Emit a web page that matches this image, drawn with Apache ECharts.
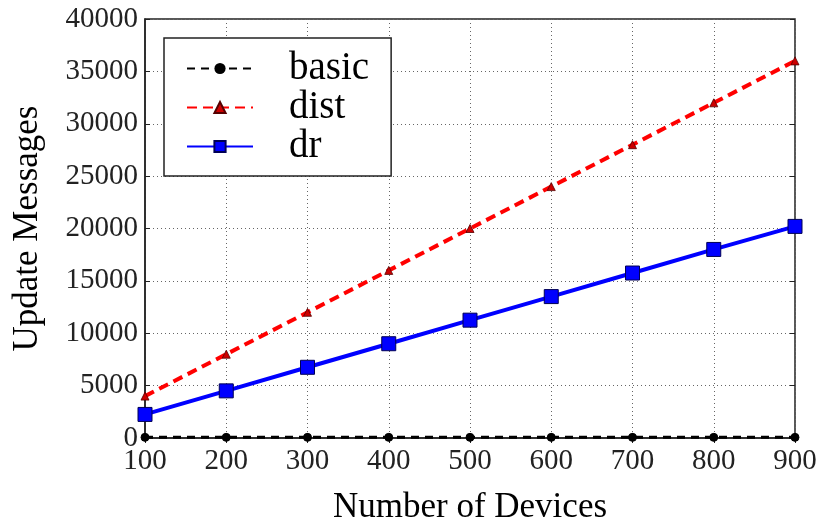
<!DOCTYPE html>
<html>
<head>
<meta charset="utf-8">
<script src="https://cdn.jsdelivr.net/npm/echarts@6/dist/echarts.min.js"></script>
<style>html,body{margin:0;padding:0;background:#fff}#c{width:816px;height:525px}</style>
</head>
<body>
<div id="c"></div>
<script>
var devices = [100, 200, 300, 400, 500, 600, 700, 800, 900];
var basicVals = [60, 60, 60, 60, 60, 60, 60, 60, 60];
var distVals = [4000, 8000, 12000, 16000, 20000, 24000, 28000, 32000, 36000];
var drVals = [2250, 4500, 6750, 9000, 11250, 13500, 15750, 18000, 20200];
var xTitle = 'Number of Devices';
var yTitle = 'Update Messages';

function pairs(v) { return devices.map(function (d, i) { return [d, v[i]]; }); }
var FONT = '"Liberation Serif", "DejaVu Serif", serif';
var tickStyle = { show: true, inside: true, length: 5, lineStyle: { color: '#222', width: 1 } };
var gridLine = { show: true, lineStyle: { color: '#666', type: [1, 3], width: 1 } };
var chart = echarts.init(document.getElementById('c'));
chart.setOption({
  animation: false,
  backgroundColor: '#fff',
  textStyle: { fontFamily: FONT },
  grid: { left: 145, right: 21, top: 19, bottom: 87, containLabel: false, outerBoundsMode: 'none',
          show: true, borderColor: '#222', borderWidth: 1.5, backgroundColor: 'transparent' },
  legend: {
    orient: 'vertical', left: 164, top: 38,
    backgroundColor: '#fff', borderColor: '#222', borderWidth: 1.5,
    padding: [11, 22, 10, 22], itemGap: 0, itemWidth: 66, itemHeight: 14,
    textStyle: { fontFamily: FONT, fontSize: 39, color: '#000', padding: [0, 0, 0, 31] },
    data: ['basic', 'dist', 'dr']
  },
  xAxis: [{
    type: 'value', min: 100, max: 900, interval: 100,
    name: xTitle, nameLocation: 'middle', nameGap: 52,
    nameTextStyle: { fontFamily: FONT, fontSize: 35, color: '#000' },
    axisLine: { show: true, lineStyle: { color: '#222', width: 1.5 } },
    axisTick: tickStyle,
    axisLabel: { fontFamily: FONT, fontSize: 29, color: '#222', margin: 9 },
    splitLine: gridLine
  }, {
    type: 'value', min: 100, max: 900, interval: 100, position: 'top',
    axisLine: { show: false }, axisTick: tickStyle,
    axisLabel: { show: false }, splitLine: { show: false }
  }],
  yAxis: [{
    type: 'value', min: 0, max: 40000, interval: 5000,
    name: yTitle, nameLocation: 'middle', nameGap: 100,
    nameTextStyle: { fontFamily: FONT, fontSize: 35, color: '#000' },
    axisLine: { show: true, lineStyle: { color: '#222', width: 1.5 } },
    axisTick: tickStyle,
    axisLabel: { fontFamily: FONT, fontSize: 29, color: '#222', margin: 7, formatter: function (v) { return String(v); } },
    splitLine: gridLine
  }, {
    type: 'value', min: 0, max: 40000, interval: 5000, position: 'right',
    axisLine: { show: false }, axisTick: tickStyle,
    axisLabel: { show: false }, splitLine: { show: false }
  }],
  series: [
    {
      name: 'basic', type: 'line', data: pairs(basicVals), z: 3,
      symbol: 'circle', symbolSize: 8,
      lineStyle: { color: '#000', width: 3, type: [8, 6] },
      itemStyle: { color: '#000', borderColor: '#000' }
    },
    {
      name: 'dist', type: 'line', data: pairs(distVals), z: 4,
      symbol: 'triangle', symbolSize: 8,
      lineStyle: { color: '#ff0000', width: 4, type: [10, 6] },
      itemStyle: { color: '#cc0000', borderColor: '#550000', borderWidth: 0.8 }
    },
    {
      name: 'dr', type: 'line', data: pairs(drVals), z: 5,
      symbol: 'rect', symbolSize: 14,
      lineStyle: { color: '#0000ff', width: 4 },
      itemStyle: { color: '#0000ff', borderColor: '#000055', borderWidth: 1 }
    }
  ]
});
</script>
</body>
</html>
